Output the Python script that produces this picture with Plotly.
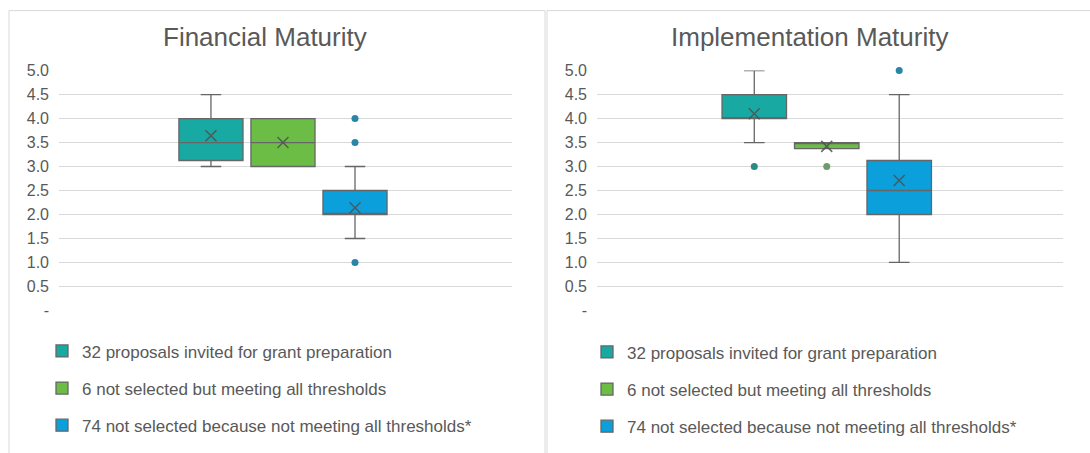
import plotly.graph_objects as go

W, H = 1090, 453

# Series (one box per series in each panel)
series_names = [
    "32 proposals invited for grant preparation",
    "6 not selected but meeting all thresholds",
    "74 not selected because not meeting all thresholds*",
]
fill_colors = ["#17A9A2", "#6BBD45", "#0B9FDC"]
outlier_colors = ["#2B8A83", "#6F9A6B", "#2A86A8"]
positions = [1, 2, 3]

panel_titles = ["Financial Maturity", "Implementation Maturity"]

# Financial Maturity statistics
fin_q1 = [3.125, 3.0, 2.0]
fin_median = [3.5, 3.5, 2.0]
fin_q3 = [4.0, 4.0, 2.5]
fin_low = [3.0, 3.0, 1.5]
fin_high = [4.5, 4.0, 3.0]
fin_mean = [3.64, 3.5, 2.14]
fin_outliers = [[], [], [4.0, 3.5, 1.0]]

# Implementation Maturity statistics
imp_q1 = [4.0, 3.375, 2.0]
imp_median = [4.0, 3.5, 2.5]
imp_q3 = [4.5, 3.5, 3.125]
imp_low = [3.5, 3.375, 1.0]
imp_high = [5.0, 3.5, 4.5]
imp_mean = [4.1, 3.42, 2.71]
imp_outliers = [[3.0], [3.0], [5.0]]

tick_vals = [0, 0.5, 1.0, 1.5, 2.0, 2.5, 3.0, 3.5, 4.0, 4.5, 5.0]
tick_text = ["-", "0.5", "1.0", "1.5", "2.0", "2.5", "3.0", "3.5", "4.0", "4.5", "5.0"]

FONT = "Liberation Sans, Arial, sans-serif"
TEXT = "#595959"
GRID = "#D9D9D9"
EDGE = "#666666"

# vertical placement: the page shows the figure with a small top offset and
# slight vertical squeeze, so layout positions are given in on-screen pixels
Y_OFF, Y_SCALE = 7.4, 0.963


def px_x(p):
    return p / W


def px_y(p):
    return 1 - ((p - Y_OFF) / Y_SCALE) / H


fig = go.Figure()

panels = [
    dict(stats=(fin_q1, fin_median, fin_q3, fin_low, fin_high, fin_mean, fin_outliers),
         xa="x", ya="y", legend="legend"),
    dict(stats=(imp_q1, imp_median, imp_q3, imp_low, imp_high, imp_mean, imp_outliers),
         xa="x2", ya="y2", legend="legend2"),
]

for panel in panels:
    q1, med, q3, lo, hi, mean, outl = panel["stats"]
    for i, name in enumerate(series_names):
        fig.add_trace(go.Box(
            x=[positions[i]], q1=[q1[i]], median=[med[i]], q3=[q3[i]],
            lowerfence=[lo[i]], upperfence=[hi[i]],
            width=0.89, whiskerwidth=0.32,
            fillcolor=fill_colors[i], line=dict(color=EDGE, width=1.3),
            name=name, legend=panel["legend"], legendgroup=panel["legend"] + str(i),
            xaxis=panel["xa"], yaxis=panel["ya"], hoverinfo="skip",
        ))
        # mean marker
        fig.add_trace(go.Scatter(
            x=[positions[i]], y=[mean[i]], mode="markers",
            marker=dict(symbol="x-thin", size=11, line=dict(color="rgba(80,80,80,0.85)", width=1.5)),
            showlegend=False, xaxis=panel["xa"], yaxis=panel["ya"], hoverinfo="skip",
        ))
        if outl[i]:
            fig.add_trace(go.Scatter(
                x=[positions[i]] * len(outl[i]), y=outl[i], mode="markers",
                marker=dict(symbol="circle", size=7, color=outlier_colors[i]),
                cliponaxis=False,
                showlegend=False, xaxis=panel["xa"], yaxis=panel["ya"], hoverinfo="skip",
            ))

yaxis_common = dict(
    range=[0, 5], tickvals=tick_vals, ticktext=tick_text,
    showgrid=True, gridcolor=GRID, gridwidth=1, zeroline=False, showline=False,
    ticks="", ticklabelstandoff=9,
    tickfont=dict(family=FONT, size=16, color=TEXT),
    domain=[px_y(310), px_y(70)], fixedrange=True,
)
xaxis_common = dict(showgrid=False, zeroline=False, showline=False,
                    showticklabels=False, ticks="", fixedrange=True)

legend_common = dict(xanchor="left", yanchor="top",
                     font=dict(family=FONT, size=17, color=TEXT),
                     tracegroupgap=12, bgcolor="rgba(0,0,0,0)")

fig.update_layout(
    width=W, height=H,
    margin=dict(l=0, r=0, t=0, b=0),
    paper_bgcolor="white", plot_bgcolor="white",
    boxmode="overlay",
    xaxis=dict(xaxis_common, domain=[px_x(59), px_x(512)], range=[-1.11, 5.18], anchor="y"),
    yaxis=dict(yaxis_common, anchor="x"),
    xaxis2=dict(xaxis_common, domain=[px_x(597), px_x(1063)], range=[-1.17, 5.26], anchor="y2"),
    yaxis2=dict(yaxis_common, anchor="x2"),
    legend=dict(legend_common, x=px_x(42), y=px_y(333)),
    legend2=dict(legend_common, x=px_x(587), y=px_y(334)),
    shapes=[
        dict(type="rect", xref="paper", yref="paper",
             x0=px_x(9), x1=px_x(545), y0=px_y(470), y1=px_y(10),
             line=dict(color=GRID, width=1), layer="below"),
        dict(type="rect", xref="paper", yref="paper",
             x0=px_x(547), x1=px_x(1096), y0=px_y(470), y1=px_y(10),
             line=dict(color=GRID, width=1), layer="below"),
    ],
    annotations=[
        dict(text=panel_titles[0], x=px_x(265), y=px_y(36), xref="paper", yref="paper",
             xanchor="center", yanchor="middle",
             showarrow=False, font=dict(family=FONT, size=26, color=TEXT)),
        dict(text=panel_titles[1], x=px_x(809), y=px_y(36), xref="paper", yref="paper",
             xanchor="center", yanchor="middle",
             showarrow=False, font=dict(family=FONT, size=26, color=TEXT)),
    ],
)

fig.write_html("out.html")
